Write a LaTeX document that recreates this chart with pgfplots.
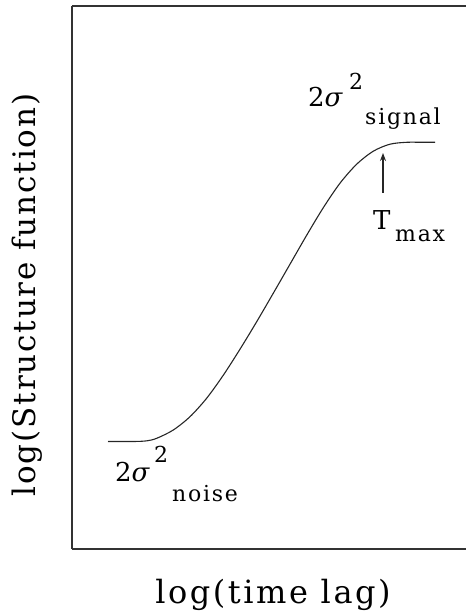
\documentclass[border=0pt]{standalone}
\usepackage{fontspec}
\setmainfont{DejaVu Serif}[LetterSpace=8]
\usepackage{pgfplots}
\pgfplotsset{compat=1.18}
\usetikzlibrary{arrows.meta}

\newcommand{\xlblfont}{\fontsize{32}{34}\selectfont}
\newcommand{\ylblfont}{\fontsize{31}{33}\selectfont\addfontfeature{LetterSpace=6}}
\newcommand{\mainfont}{\fontsize{26}{28}\selectfont}
\newcommand{\subfont}{\fontsize{22}{24}\selectfont}

\begin{document}
\begin{tikzpicture}
\useasboundingbox (-72pt,-63pt) rectangle (394pt,549pt);
\begin{axis}[
  at={(0pt,0pt)}, anchor=south west,
  scale only axis, width=394pt, height=543pt,
  xmin=0, xmax=394, ymin=0, ymax=543,
  axis x line=box, axis y line=left,
  axis line style={-, line width=1.1pt, black!80},
  xtick=\empty, ytick=\empty,
  clip=false,
  xlabel={log(time lag)},
  ylabel={log(Structure function)},
  xlabel style={at={(axis cs:201,-54)}, anchor=base, font=\xlblfont, inner sep=0pt},
  ylabel style={at={(axis cs:-36,254)}, anchor=base, font=\ylblfont, inner sep=0pt},
]
% structure function: noise plateau, power-law rise, signal plateau
\addplot[smooth, line width=1.1pt, black!85] coordinates {
  (36,107.5) (62,107.5) (75,108.2) (84.7,110.7) (101.3,119) (118,132.3)
  (134.7,150.8) (151.3,173.8) (168,199.8) (184.7,227.3) (201.3,255.8)
  (218,284.8) (234.7,313.8) (251.3,341.3) (268,365.8) (284.7,384.8)
  (301.3,397.8) (318,404.8) (334.7,406.7) (350,406.7) (363,406.7)
};

% plateau labels
\node[anchor=base west, inner sep=0pt, font=\mainfont] at (axis cs:236,442) {2{\itshape σ}};
\node[anchor=base west, inner sep=0pt, font=\subfont] at (axis cs:277,459) {2};
\node[anchor=base west, inner sep=0pt, font=\subfont] at (axis cs:293,424) {signal};

\node[anchor=base west, inner sep=0pt, font=\mainfont] at (axis cs:43,67) {2{\itshape σ}};
\node[anchor=base west, inner sep=0pt, font=\subfont] at (axis cs:82,86) {2};
\node[anchor=base west, inner sep=0pt, font=\subfont] at (axis cs:100,47) {noise};

% turnover time
\draw[-{Stealth[length=8pt,width=6pt]}, line width=1.2pt, black!85] (axis cs:311,356) -- (axis cs:311,396);
\node[anchor=base west, inner sep=0pt, font=\mainfont] at (axis cs:301,319) {T};
\node[anchor=base west, inner sep=0pt, font=\subfont] at (axis cs:323,307) {max};
\end{axis}
\end{tikzpicture}
\end{document}
